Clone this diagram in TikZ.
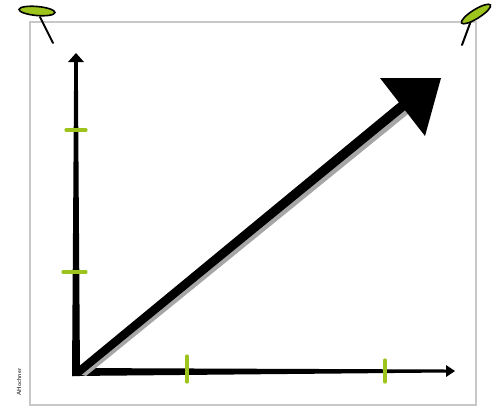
\documentclass[tikz,border=0pt]{standalone}
\usetikzlibrary{arrows.meta}
\definecolor{pingreen}{HTML}{9DC41C}
\definecolor{framegray}{HTML}{C8C8C8}
\tikzset{
  frameline/.style={draw=framegray, line width=2.2pt},
  tickmark/.style={draw=pingreen, line width=3.2pt, line cap=round},
  pinhead/.style={fill=pingreen, draw=black, line width=1.6pt},
  pinstem/.style={draw=black, line width=2pt, line cap=round},
}
\begin{document}
\begin{tikzpicture}[x=1pt,y=-1pt]
\useasboundingbox (0,0) rectangle (497,408);
% frame
\draw[frameline] (30,22) rectangle (476,405);
% pins
\draw[pinstem] (40,17) -- (53,43);
\draw[pinhead] (37,11) ellipse [x radius=18, y radius=4.5, rotate=-5];
\draw[pinstem] (472,18) -- (462,45);
\draw[pinhead] (476,14) ellipse [x radius=17, y radius=4.5, rotate=32];
% signature
\node[rotate=90, font=\sffamily\fontsize{6}{6}\selectfont] (sig) at (19,382) {AHochner};
% axes
\coordinate (o) at (76,372);
\coordinate (ytop) at (76,53);
\coordinate (xend) at (455,371);
\fill (72,376) -- (74.2,62) -- (77.8,62) -- (80,376) -- cycle;
\fill (68,62) -- (76,53) -- (84,62) -- cycle;
\fill (72,368) -- (447,369.5) -- (447,372.5) -- (72,376) -- cycle;
\fill (446,365) -- (455,371) -- (446,377) -- cycle;
% ticks
\draw[tickmark] (66,130) -- (86,130);
\draw[tickmark] (63,272) -- (86,272);
\draw[tickmark] (187,356) -- (187,382);
\draw[tickmark] (385,360) -- (385,382);
% diagonal arrow: shadow then shaft
\fill[gray!70] (79,374) -- (408,104) -- (413,110) -- (86,376) -- cycle;
\fill (72,372) -- (403,99) -- (409,107) -- (80,376) -- cycle;
\fill (380,78) -- (441,78) -- (425,136) -- cycle;
\end{tikzpicture}
\end{document}
